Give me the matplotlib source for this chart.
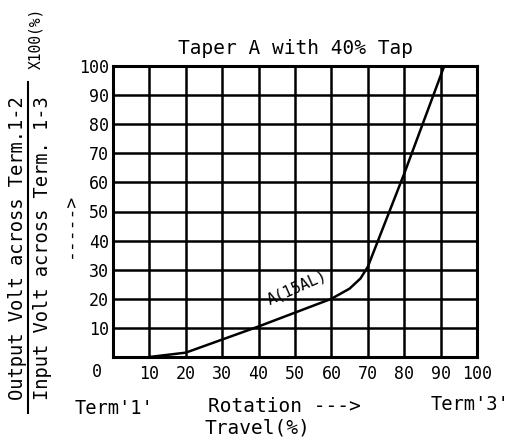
import matplotlib
matplotlib.use("Agg")
import matplotlib.pyplot as plt
from matplotlib.lines import Line2D

plt.rcParams['font.family'] = 'DejaVu Sans Mono'

# curve A(15AL), taper A with 40% tap
travel = [10, 20, 40, 60, 65, 68, 70, 80, 91]
output = [0, 1.5, 10.5, 20, 23.5, 27, 31, 63, 100]

xticks = [10, 20, 30, 40, 50, 60, 70, 80, 90, 100]
yticks = [10, 20, 30, 40, 50, 60, 70, 80, 90, 100]

fig = plt.figure(figsize=(5.15, 4.43), dpi=100)
ax = fig.add_axes([113/515, 86/443, 364/515, 291/443])

ax.plot(travel, output, color='black', lw=1.8)
ax.set_xlim(0, 100)
ax.set_ylim(0, 100)
ax.set_xticks(xticks)
ax.set_yticks(yticks)
ax.set_xticklabels([str(t) for t in xticks], fontsize=12)
ax.set_yticklabels([str(t) for t in yticks], fontsize=12)
ax.tick_params(length=0, pad=6)
ax.tick_params(axis='y', pad=3)
ax.grid(True, color='black', lw=1.8)
for s in ax.spines.values():
    s.set_linewidth(2.2)

ax.text(-4.5, -5, "0", fontsize=12, ha='center', va='center')
ax.text(50.5, 24, "A(15AL)", fontsize=11, rotation=24, ha='center', va='center')

fig.text(295/515, 1 - 49/443, "Taper A with 40% Tap", fontsize=14, ha='center', va='center')

# y-axis fraction label
fig.text(18/515, 1 - 248/443, "Output Volt across Term.1-2", fontsize=13.5,
         rotation=90, ha='center', va='center')
fig.add_artist(Line2D([28/515, 28/515], [1 - 413/443, 1 - 82/443], color='black',
                      lw=1.5, transform=fig.transFigure))
fig.text(43/515, 1 - 248/443, "Input Volt across Term. 1-3", fontsize=13.5,
         rotation=90, ha='center', va='center')
fig.text(70/515, 1 - 225/443, "----->", fontsize=13, rotation=90,
         ha='center', va='center')
fig.text(36/515, 1 - 38/443, "X100(%)", fontsize=10.5, rotation=90,
         ha='center', va='center')

# x-axis labels
fig.text(114/515, 1 - 409/443, "Term'1'", fontsize=13.5, ha='center', va='center')
fig.text(284/515, 1 - 406/443, "Rotation --->", fontsize=14, ha='center', va='center')
fig.text(257/515, 1 - 428/443, "Travel(%)", fontsize=14, ha='center', va='center')
fig.text(470/515, 1 - 405/443, "Term'3'", fontsize=13.5, ha='center', va='center')

fig.savefig("out.png", dpi=100)
